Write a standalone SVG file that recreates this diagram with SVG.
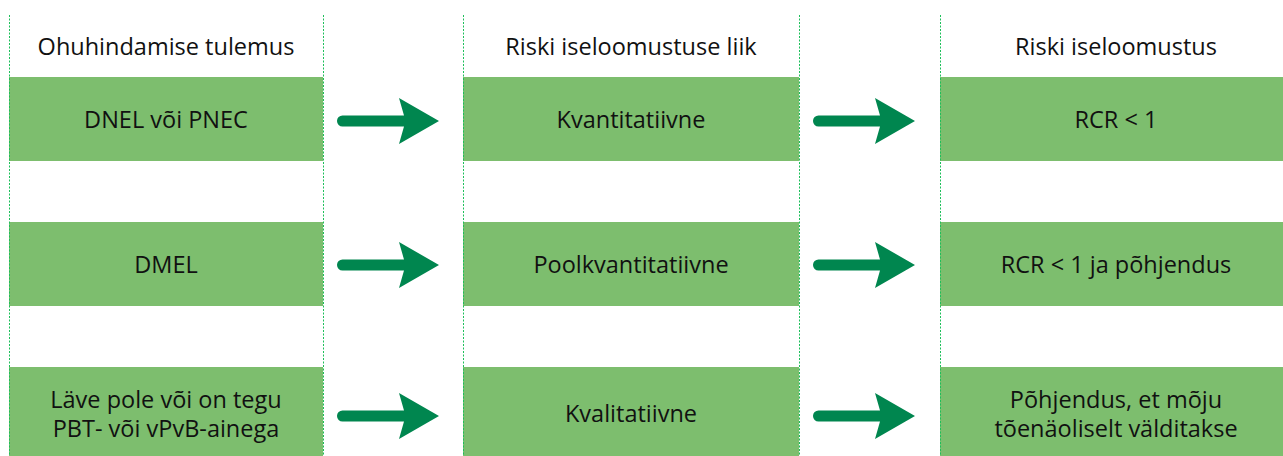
<svg xmlns="http://www.w3.org/2000/svg" width="1283" height="456" viewBox="0 0 1283 456">
<style>
.box{fill:#7DBE6E}
.t{font-family:"Open Sans","Noto Sans",sans-serif;font-size:23.5px;fill:#111;text-anchor:middle}
.sep{stroke:#1DBF5A;stroke-width:1;stroke-dasharray:2,1.5;fill:none}
.arr{fill:#00864F}
</style>
<defs>
<path id="arrow" d="M5.5,-5.5 H67 L62,-23 L102,0 L62,23 L67,5.5 H5.5 A5.5,5.5 0 0 1 5.5,-5.5 Z"/>
</defs>
<rect width="1283" height="456" fill="#fff"/>
<g id="headers">
<text class="t" x="166" y="55">Ohuhindamise tulemus</text>
<text class="t" x="631" y="55">Riski iseloomustuse liik</text>
<text class="t" x="1116" y="55">Riski iseloomustus</text>
</g>
<g id="n1"><rect class="box" x="9" y="77" width="314" height="84"/><text class="t" x="166" y="128">DNEL või PNEC</text></g>
<g id="n2"><rect class="box" x="9" y="222" width="314" height="84"/><text class="t" x="166" y="273">DMEL</text></g>
<g id="n3"><rect class="box" x="9" y="367" width="314" height="89"/><text class="t" x="166" y="408">Läve pole või on tegu</text><text class="t" x="166" y="437">PBT- või vPvB-ainega</text></g>
<g id="n4"><rect class="box" x="463" y="77" width="336" height="84"/><text class="t" x="631" y="128">Kvantitatiivne</text></g>
<g id="n5"><rect class="box" x="463" y="222" width="336" height="84"/><text class="t" x="631" y="273">Poolkvantitatiivne</text></g>
<g id="n6"><rect class="box" x="463" y="367" width="336" height="89"/><text class="t" x="631" y="422">Kvalitatiivne</text></g>
<g id="n7"><rect class="box" x="940" y="77" width="343" height="84"/><text class="t" x="1116" y="128">RCR &lt; 1</text></g>
<g id="n8"><rect class="box" x="940" y="222" width="343" height="84"/><text class="t" x="1116" y="273">RCR &lt; 1 ja põhjendus</text></g>
<g id="n9"><rect class="box" x="940" y="367" width="343" height="89"/><text class="t" x="1116" y="408">Põhjendus, et mõju</text><text class="t" x="1116" y="437">tõenäoliselt välditakse</text></g>
<g id="separators">
<line class="sep" x1="9.5" y1="15" x2="9.5" y2="456"/>
<line class="sep" x1="323.5" y1="15" x2="323.5" y2="456"/>
<line class="sep" x1="463.5" y1="15" x2="463.5" y2="456"/>
<line class="sep" x1="799.5" y1="15" x2="799.5" y2="456"/>
<line class="sep" x1="940.5" y1="15" x2="940.5" y2="456"/>
</g>
<g id="connectors" class="arr">
<use href="#arrow" transform="translate(337,121)"/>
<use href="#arrow" transform="translate(813,121)"/>
<use href="#arrow" transform="translate(337,265)"/>
<use href="#arrow" transform="translate(813,265)"/>
<use href="#arrow" transform="translate(337,416)"/>
<use href="#arrow" transform="translate(813,416)"/>
</g>
</svg>
